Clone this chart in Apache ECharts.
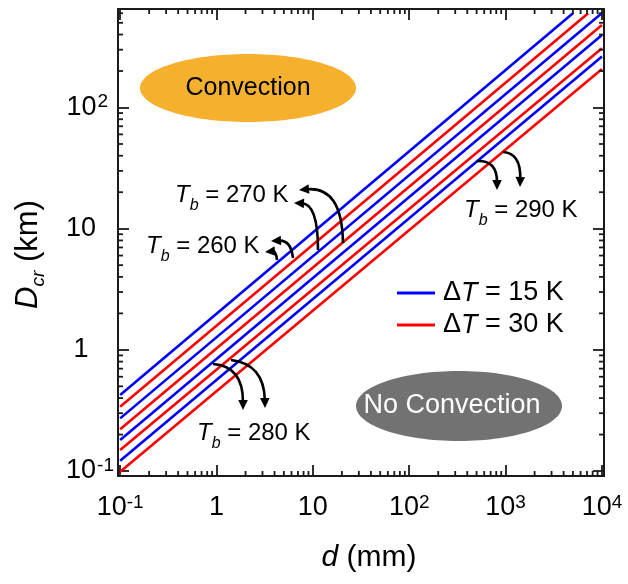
<!DOCTYPE html>
<html><head><meta charset="utf-8">
<script src="https://cdn.jsdelivr.net/npm/echarts@6/dist/echarts.min.js"></script>
<style>html,body{margin:0;padding:0;background:#fff}#c{width:628px;height:584px}</style>
</head><body><div id="c"></div>
<script>
const FONT = "'Liberation Sans', Arial, Helvetica, sans-serif";

// ---- data ----
const tbLevels = ['260 K', '270 K', '280 K', '290 K'];      // pairs, top to bottom
const legendNames = ['ΔT = 15 K', 'ΔT = 30 K'];
// ΔT = 15 K (blue): start and end of each line, d in mm, D_cr in km
const blueStartD   = [0.1, 0.1, 0.1, 0.1];
const blueStartDcr = [0.424, 0.272, 0.180, 0.1216];
const blueEndD     = [5000, 9800, 10000, 10000];
const blueEndDcr   = [600, 595, 396, 264];
// ΔT = 30 K (red)
const redStartD    = [0.1, 0.1, 0.1, 0.1];
const redStartDcr  = [0.339, 0.221, 0.149, 0.0987];
const redEndD      = [7200, 10000, 10000, 10000];
const redEndDcr    = [600, 480, 308, 208];
// axis ranges and tick labels
const X_MIN = 0.095, X_MAX = 10500, Y_MIN = 0.091, Y_MAX = 650;
const xTickValues = [0.1, 1, 10, 100, 1000, 10000];
const xTickLabels = [['10', '-1'], ['1', ''], ['10', ''], ['10', '2'], ['10', '3'], ['10', '4']];
const yTickValues = [0.1, 1, 10, 100];
const yTickLabels = [['10', '-1'], ['1', ''], ['10', ''], ['10', '2']];

// minor tick positions (2..9 x each decade)
const xMinorTicks = [];
for (let e = -1; e <= 3; e++) for (let m = 2; m <= 9; m++) xMinorTicks.push(m * Math.pow(10, e));
const yMinorTicks = [];
for (let e = -1; e <= 2; e++) for (let m = 2; m <= 9; m++) { const v = m * Math.pow(10, e); if (v < Y_MAX) yMinorTicks.push(v); }

function findLabel(values, labels, v) {
  for (let i = 0; i < values.length; i++) {
    if (Math.abs(Math.log10(v) - Math.log10(values[i])) < 1e-6) return labels[i];
  }
  return null;
}

const AX = '#1a1a1a';
const series = [];
for (let i = 0; i < 4; i++) {
  series.push({
    type: 'line', name: legendNames[0], showSymbol: false, symbol: 'none', silent: true,
    data: [[blueStartD[i], blueStartDcr[i]], [blueEndD[i], blueEndDcr[i]]],
    lineStyle: { color: '#0000ff', width: 2.6 }, itemStyle: { color: '#0000ff' }, z: 3
  });
  series.push({
    type: 'line', name: legendNames[1], showSymbol: false, symbol: 'none', silent: true,
    data: [[redStartD[i], redStartDcr[i]], [redEndD[i], redEndDcr[i]]],
    lineStyle: { color: '#ff0000', width: 2.6 }, itemStyle: { color: '#ff0000' }, z: 3
  });
}
series.push({
  type: 'custom', name: 'xMinor', coordinateSystem: 'cartesian2d', silent: true, clip: false, z: 5,
  data: xMinorTicks.map(v => [v, 1]),
  renderItem: function (params, api) {
    const p = api.coord([api.value(0), api.value(1)]);
    const cs = params.coordSys; const b = cs.y + cs.height;
    const st = { stroke: AX, lineWidth: 1.8 };
    return { type: 'group', children: [
      { type: 'line', shape: { x1: p[0], y1: b, x2: p[0], y2: b - 5 }, style: st },
      { type: 'line', shape: { x1: p[0], y1: cs.y, x2: p[0], y2: cs.y + 5 }, style: st }
    ] };
  }
});
series.push({
  type: 'custom', name: 'yMinor', coordinateSystem: 'cartesian2d', silent: true, clip: false, z: 5,
  data: yMinorTicks.map(v => [1, v]),
  renderItem: function (params, api) {
    const p = api.coord([api.value(0), api.value(1)]);
    const cs = params.coordSys; const r = cs.x + cs.width;
    const st = { stroke: AX, lineWidth: 1.8 };
    return { type: 'group', children: [
      { type: 'line', shape: { x1: cs.x, y1: p[1], x2: cs.x + 5, y2: p[1] }, style: st },
      { type: 'line', shape: { x1: r, y1: p[1], x2: r - 5, y2: p[1] }, style: st }
    ] };
  }
});

const axisLine = { show: true, onZero: false, lineStyle: { color: AX, width: 2 } };
const axisTick = { show: true, inside: true, length: 11, lineStyle: { color: AX, width: 1.8 } };

const LBL = 27, SUP = 19;
const xRich = {
  b: { fontSize: LBL, lineHeight: 30, fontFamily: FONT, color: '#000' },
  s: { fontSize: SUP, lineHeight: 19, verticalAlign: 'top', fontFamily: FONT, color: '#000' }
};
const yRich = {
  b: { fontSize: LBL, lineHeight: 30, fontFamily: FONT, color: '#000', width: 32, align: 'center' },
  s: { fontSize: SUP, lineHeight: 19, verticalAlign: 'top', fontFamily: FONT, color: '#000', align: 'right' },
  p1: { fontSize: SUP, width: 1, align: 'right' },
  p7: { fontSize: SUP, width: 7, align: 'right' },
  p18: { fontSize: SUP, width: 18, align: 'right' }
};

function subRich(size, subSize, pad) {
  return {
    i: { fontStyle: 'italic', fontSize: size, fontFamily: FONT, color: '#000' },
    sub: { fontStyle: 'italic', fontSize: subSize, lineHeight: subSize, fontFamily: FONT, color: '#000', verticalAlign: 'top', padding: [pad, 0, 0, 0] },
    n: { fontSize: size, fontFamily: FONT, color: '#000' }
  };
}

function arrow(x1, y1, cx, cy, x2, y2) {
  const dx = x2 - cx, dy = y2 - cy, L = Math.hypot(dx, dy);
  const ux = dx / L, uy = dy / L, len = 10, half = 4.8;
  const bx = x2 - ux * len, by = y2 - uy * len;
  return [
    { type: 'bezierCurve', shape: { x1: x1, y1: y1, cpx1: cx, cpy1: cy, x2: bx + ux * 2, y2: by + uy * 2 },
      style: { stroke: '#000', lineWidth: 2.6, fill: 'none' }, z: 20 },
    { type: 'polygon', shape: { points: [[x2, y2], [bx - uy * half, by + ux * half], [bx + uy * half, by - ux * half]] },
      style: { fill: '#000' }, z: 20 }
  ];
}

function tbText(x, y, level) {
  return { type: 'text', x: x, y: y, z: 20, style: {
    text: '{i|T}{sub|b}{n| = ' + level + '}', align: 'left', verticalAlign: 'middle',
    fontSize: 24, fontFamily: FONT, fill: '#000', rich: subRich(24, 16, 15)
  } };
}

const graphics = [
  { type: 'ellipse', shape: { cx: 248, cy: 88, rx: 108, ry: 34 }, style: { fill: '#F5B12E' }, z: 10 },
  { type: 'text', x: 248, y: 88, z: 11, style: { text: 'Convection', align: 'center', verticalAlign: 'middle', fontSize: 25, fontFamily: FONT, fill: '#000' } },
  { type: 'ellipse', shape: { cx: 459, cy: 406, rx: 103, ry: 35 }, style: { fill: '#727272' }, z: 10 },
  { type: 'text', x: 452, y: 406, z: 11, style: { text: 'No Convection', align: 'center', verticalAlign: 'middle', fontSize: 27, fontFamily: FONT, fill: '#fff' } },
  tbText(175, 195, tbLevels[1]),
  tbText(146, 246, tbLevels[0]),
  tbText(464, 210, tbLevels[3]),
  tbText(197, 433, tbLevels[2])
].concat(
  arrow(318, 250, 318, 204, 294, 203),
  arrow(343, 243, 342, 186, 299, 190),
  arrow(293, 258, 291, 240, 271, 241),
  arrow(277, 260, 276, 251, 265, 252),
  arrow(213, 364, 243, 366, 243, 410),
  arrow(231, 360, 264, 364, 265, 408),
  arrow(477, 161, 497, 160, 497, 190),
  arrow(503, 152, 521, 153, 520, 187)
);

const option = {
  animation: false,
  backgroundColor: '#fff',
  grid: { left: 118, top: 9, width: 486, height: 467, containLabel: false, outerBoundsMode: 'none' },
  legend: {
    data: legendNames, left: 397, top: 278, orient: 'vertical', icon: 'rect',
    itemWidth: 38, itemHeight: 3, itemGap: 2, selectedMode: false, padding: 0,
    formatter: function (name) { return name.replace('T', '{i|T}'); },
    textStyle: { fontSize: 27, lineHeight: 30, fontFamily: FONT, color: '#000', padding: [0, 0, 0, 3],
      rich: { i: { fontStyle: 'italic', fontSize: 27, lineHeight: 30, fontFamily: FONT, color: '#000' } } }
  },
  xAxis: [
    { type: 'log', logBase: 10, min: X_MIN, max: X_MAX, position: 'bottom', gridIndex: 0,
      axisLine: axisLine, axisTick: axisTick, splitLine: { show: false }, minorTick: { show: false },
      axisLabel: { margin: 17, fontSize: LBL, fontFamily: FONT, color: '#000', rich: xRich,
        formatter: function (v) { const l = findLabel(xTickValues, xTickLabels, v); if (!l) return ''; return l[1] ? '{b|' + l[0] + '}{s|' + l[1] + '}' : '{b|' + l[0] + '}'; } },
      name: '{i|d}{n| (mm)}', nameLocation: 'middle', nameGap: 67,
      nameTextStyle: { fontSize: 30, fontFamily: FONT, color: '#000', padding: [0, 0, 0, 16], rich: subRich(30, 19, 16) } },
    { type: 'log', logBase: 10, min: X_MIN, max: X_MAX, position: 'top', gridIndex: 0,
      axisLine: axisLine, axisTick: axisTick, axisLabel: { show: false }, splitLine: { show: false } }
  ],
  yAxis: [
    { type: 'log', logBase: 10, min: Y_MIN, max: Y_MAX, position: 'left', gridIndex: 0,
      axisLine: axisLine, axisTick: axisTick, splitLine: { show: false }, minorTick: { show: false },
      axisLabel: { margin: 3, align: 'right', fontSize: LBL, fontFamily: FONT, color: '#000', rich: yRich,
        formatter: function (v) {
          const l = findLabel(yTickValues, yTickLabels, v); if (!l) return '';
          if (!l[1]) return '{b|' + l[0] + '}{p18| }';
          return '{b|' + l[0] + '}{s|' + l[1] + '}' + (l[1].length > 1 ? '{p1| }' : '{p7| }');
        } },
      name: '{i|D}{sub|cr}{n| (km)}', nameLocation: 'middle', nameGap: 74,
      nameTextStyle: { fontSize: 31, fontFamily: FONT, color: '#000', padding: [0, 24, 0, 0], rich: subRich(31, 19, 16) } },
    { type: 'log', logBase: 10, min: Y_MIN, max: Y_MAX, position: 'right', gridIndex: 0,
      axisLine: axisLine, axisTick: axisTick, axisLabel: { show: false }, splitLine: { show: false } }
  ],
  series: series,
  graphic: graphics
};

const chart = echarts.init(document.getElementById('c'), null, { renderer: 'canvas' });
chart.setOption(option);
</script>
</body></html>
